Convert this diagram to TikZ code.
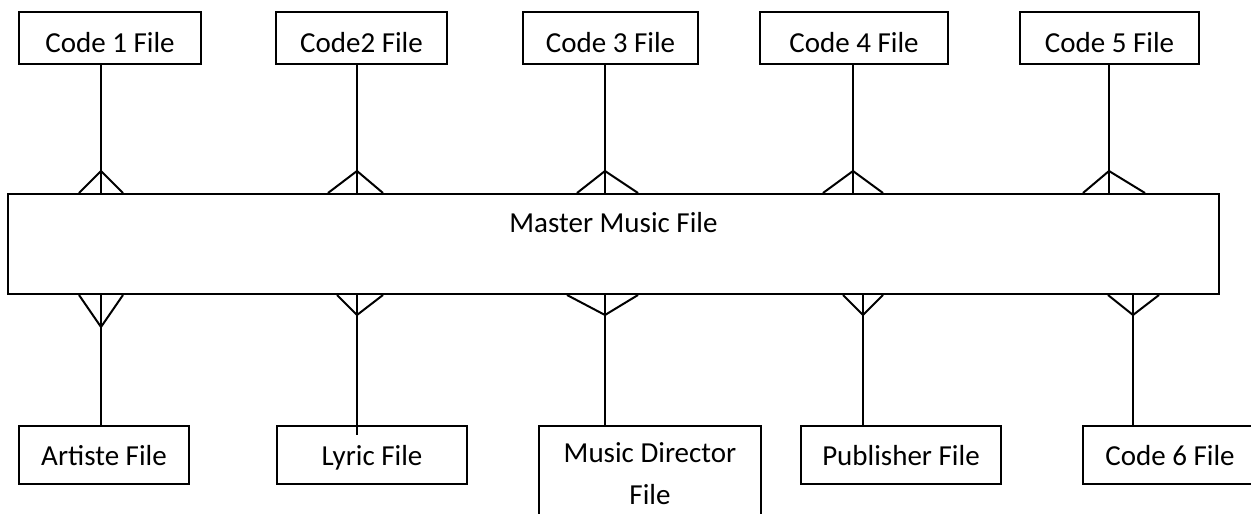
\documentclass[tikz,border=0pt]{standalone}
\usepackage{fontspec}
\setmainfont{Carlito}
\begin{document}
\begin{tikzpicture}[
  x=1pt, y={(0pt,-1pt)},
  every node/.style={font=\fontsize{29}{42}\selectfont},
  link/.style={line width=2pt},
  filebox/.style={draw, line width=2pt, inner sep=0pt},
  topbox/.style={filebox, minimum height=52pt, text height=28pt, text depth=0pt},
  botbox/.style={filebox, minimum height=58pt, text height=20pt, text depth=0pt},
]
\useasboundingbox (0,0) rectangle (1251,514);
\clip (0,0) rectangle (1251,514);

% code files along the top
\node[topbox, minimum width=182pt] (c1) at (110,38)    {Code 1 File};
\node[topbox, minimum width=171pt] (c2) at (361.5,38)  {Code2 File};
\node[topbox, minimum width=175pt] (c3) at (610.5,38)  {Code 3 File};
\node[topbox, minimum width=188pt] (c4) at (854,38)    {Code 4 File};
\node[topbox, minimum width=179pt] (c5) at (1109.5,38) {Code 5 File};

% central file
\node[filebox, minimum width=1211pt, minimum height=100pt,
      text height=0pt, text depth=24pt] (master) at (613.5,244) {Master Music File};

% reference files along the bottom
\node[botbox, minimum width=170pt] (artiste)   at (104,455)  {Artiste File};
\node[botbox, minimum width=190pt] (lyric)     at (372,455)  {Lyric File};
\node[filebox, minimum width=222pt, minimum height=96pt, align=center]
      (director) at (650,474) {Music Director\\File};
\node[botbox, minimum width=200pt] (publisher) at (901,455)  {Publisher File};
\node[botbox, minimum width=174pt] (code6)     at (1170,455) {Code 6 File};

% one-to-many links from the code files (crow's foot on the master side)
\foreach \src/\x/\l/\r in {c1/101/22/22, c2/357/29/26, c3/605/28/33,
                           c4/853/30/30, c5/1109/26/36} {
  \coordinate (a-\src) at (\x,171);
  \draw[link] (\src.south -| a-\src) -- (a-\src |- master.north);
  \draw[link] ([xshift=-\l pt]a-\src |- master.north) -- (a-\src)
              -- ([xshift=\r pt]a-\src |- master.north);
}

% one-to-many links to the reference files (crow's foot on the master side)
\foreach \dst/\x/\ay/\l/\r/\e in {artiste/101/327/22/22/0, lyric/357/315/20/26/10,
                                  director/605/315/38/33/0, publisher/863/315/20/20/0,
                                  code6/1133/315/25/26/0} {
  \coordinate (b-\dst) at (\x,\ay);
  \draw[link] (b-\dst |- master.south) -- ([yshift=-\e pt]\dst.north -| b-\dst);
  \draw[link] ([xshift=-\l pt]b-\dst |- master.south) -- (b-\dst)
              -- ([xshift=\r pt]b-\dst |- master.south);
}
\end{tikzpicture}
\end{document}
